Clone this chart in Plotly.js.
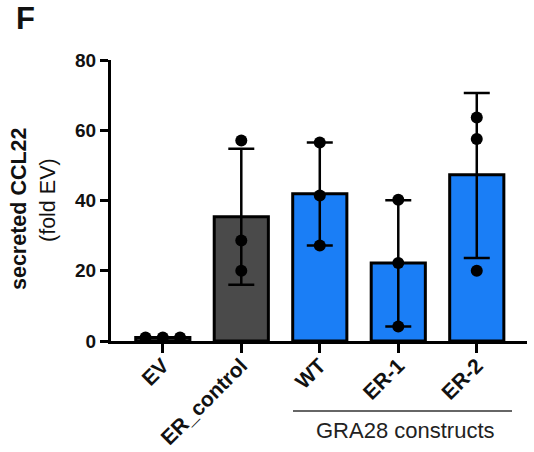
<!DOCTYPE html>
<html>
<head>
<meta charset="utf-8">
<script src="https://cdn.plot.ly/plotly-3.0.1.min.js"></script>
<style>html,body{margin:0;padding:0;background:#fff;}#chart{width:534px;height:452px;}</style>
</head>
<body>
<div id="chart"></div>
<script>
// ---- data ----
var categories = ["EV", "ER_control", "WT", "ER-1", "ER-2"];
var barMeans = [1.0, 35.4, 41.9, 22.2, 47.3];
var errUpper = [0.0, 19.3, 14.6, 17.9, 23.3];
var errLower = [0.0, 19.4, 14.7, 18.1, 23.7];
var pointsEV = [1.0, 1.0, 1.0];
var pointsERcontrol = [57.1, 28.6, 20.0];
var pointsWT = [56.5, 41.4, 27.2];
var pointsER1 = [40.2, 22.2, 4.1];
var pointsER2 = [63.6, 57.5, 20.0];
var yTicks = [0, 20, 40, 60, 80];
var groupLabel = "GRA28 constructs";

// ---- styles ----
var barColors = ["#4a4a4a", "#4a4a4a", "#1a7ef6", "#1a7ef6", "#1a7ef6"];
var jitterEV = [-0.22, 0, 0.22];
var W = 534, H = 452, mL = 111, mR = 7, mT = 60, mB = 111;
var pw = W - mL - mR, ph = H - mT - mB;
function px2x(p){ return (p - mL) / pw; }
function px2y(p){ return (H - mB - p) / ph; }

var idx = categories.map(function(_, i){ return i; });
var allPts = [pointsEV, pointsERcontrol, pointsWT, pointsER1, pointsER2];
var ptX = [], ptY = [];
allPts.forEach(function(arr, i){
  arr.forEach(function(v, j){
    ptX.push(i + (i === 0 ? jitterEV[j] : 0));
    ptY.push(v);
  });
});

var bars = {
  type: "bar",
  x: idx,
  y: barMeans,
  width: 0.69,
  marker: {color: barColors, line: {color: "#000", width: 3}},
  error_y: {
    type: "data", symmetric: false,
    array: errUpper, arrayminus: errLower,
    color: "#000", thickness: 2.5, width: 13
  },
  hoverinfo: "skip"
};
var pts = {
  type: "scatter", mode: "markers",
  x: ptX, y: ptY,
  marker: {color: "#000", size: 12},
  cliponaxis: false,
  hoverinfo: "skip"
};

var font = "Liberation Sans, Arial, sans-serif";
var layout = {
  width: W, height: H,
  margin: {l: mL, r: mR, t: mT, b: mB, pad: 0},
  paper_bgcolor: "#fff", plot_bgcolor: "#fff",
  showlegend: false,
  font: {family: font, color: "#000"},
  xaxis: {
    range: [-0.66, 4.64],
    tickvals: idx, ticktext: categories,
    tickangle: -45,
    ticklabelstandoff: -8,
    tickfont: {family: font, size: 21, weight: "bold", color: "#111"},
    ticks: "outside", ticklen: 9, tickwidth: 3, tickcolor: "#000",
    showline: true, linewidth: 3, linecolor: "#000",
    showgrid: false, zeroline: false, fixedrange: true
  },
  yaxis: {
    range: [0, 80],
    tickvals: yTicks,
    tickfont: {family: font, size: 19, weight: "bold", color: "#111"},
    ticks: "outside", ticklen: 8, tickwidth: 3, tickcolor: "#000",
    showline: true, linewidth: 3, linecolor: "#000",
    showgrid: false, zeroline: false, fixedrange: true
  },
  shapes: [{
    type: "line", xref: "paper", yref: "paper",
    x0: px2x(293), x1: px2x(512), y0: px2y(411), y1: px2y(411),
    line: {color: "#333", width: 1.5}
  }],
  annotations: [
    {text: "<b>F</b>", xref: "paper", yref: "paper", x: px2x(25), y: px2y(19),
     showarrow: false, font: {family: font, size: 31, color: "#111"}, xanchor: "center", yanchor: "middle"},
    {text: "<b>secreted CCL22</b>", xref: "paper", yref: "paper", x: px2x(19), y: px2y(209),
     showarrow: false, textangle: -90, font: {family: font, size: 21.5, color: "#111"}, xanchor: "center", yanchor: "middle"},
    {text: "(fold EV)", xref: "paper", yref: "paper", x: px2x(48), y: px2y(200),
     showarrow: false, textangle: -90, font: {family: font, size: 21.5, color: "#111"}, xanchor: "center", yanchor: "middle"},
    {text: groupLabel, xref: "paper", yref: "paper", x: px2x(405), y: px2y(430),
     showarrow: false, font: {family: font, size: 22, color: "#222"}, xanchor: "center", yanchor: "middle"}
  ]
};

Plotly.newPlot("chart", [bars, pts], layout, {staticPlot: true, displayModeBar: false});
</script>
</body>
</html>
